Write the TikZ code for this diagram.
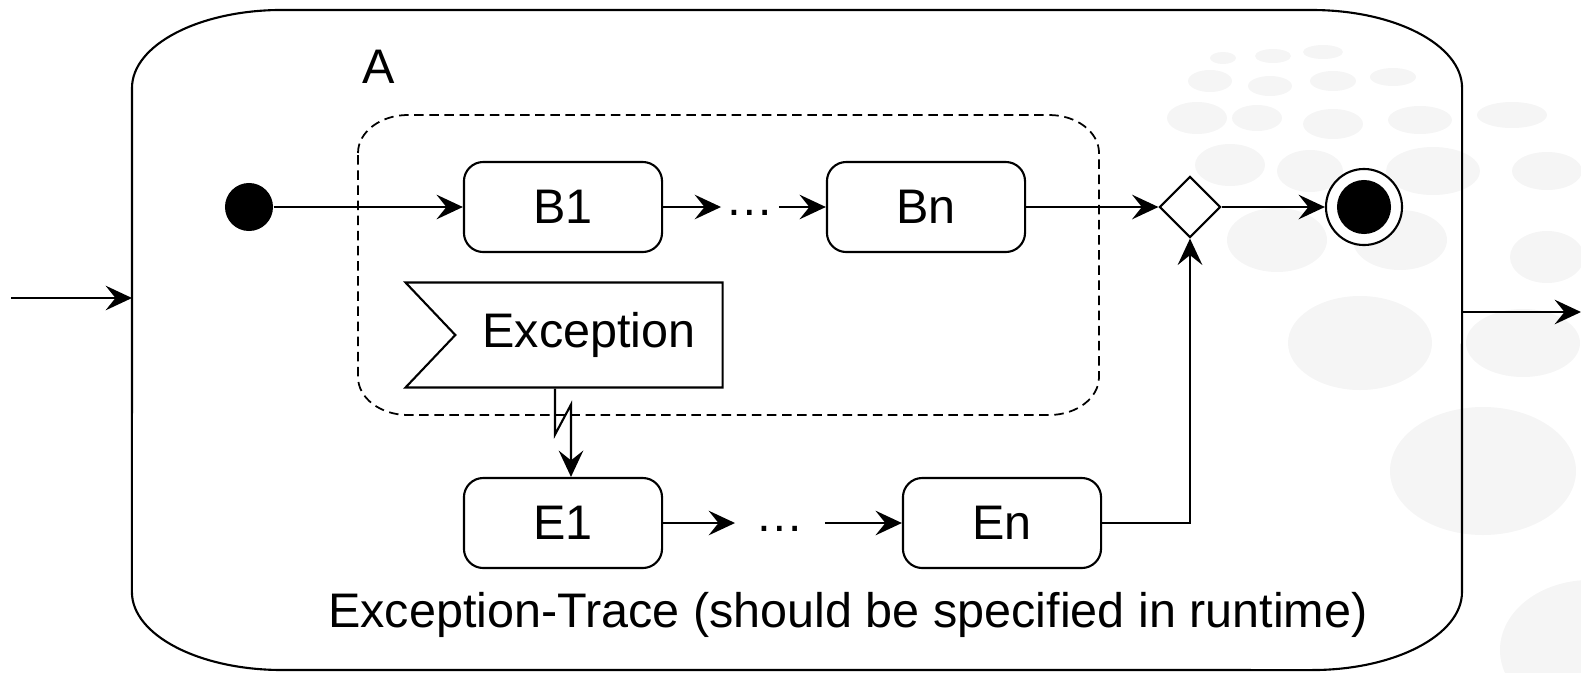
\documentclass[tikz,border=0pt]{standalone}
\usepackage{fontspec}
\setmainfont{Liberation Sans}
\usetikzlibrary{arrows.meta,shapes.geometric,shapes.symbols}

\tikzset{
  act/.style={draw, rectangle, rounded corners=5.5pt, fill=white, line width=0.6pt,
    minimum width=1.98cm, minimum height=0.9cm, inner sep=0pt},
  arr/.style={-{Stealth[length=7.5pt,width=7pt,inset=2.8pt]}, line width=0.6pt},
  startdot/.style={circle, fill=black, minimum size=0.48cm, inner sep=0pt},
  enddot/.style={circle, draw, fill=white, line width=0.6pt, minimum size=0.76cm, inner sep=0pt},
  decision/.style={diamond, draw, fill=white, line width=0.6pt, inner sep=0pt,
    minimum width=0.61cm, minimum height=0.61cm},
  flag/.style={signal, signal to=nowhere, signal from=west, signal pointer angle=93,
    draw, fill=white, line width=0.6pt, minimum width=3.17cm, minimum height=1.05cm, inner sep=0pt},
  dots/.style={text height=0.7em, text depth=0.2em, inner ysep=0pt},
  blob/.style={fill=black!4},
  region/.style={dashed, dash pattern=on 2.7pt off 1.6pt, line width=0.5pt},
}

\begin{document}
\begin{tikzpicture}[x=0.01cm, y=-0.01cm, font=\fontsize{13.8}{16}\selectfont]
  \useasboundingbox (0,0) rectangle (1581,672);

  % faint spots in the background
  \foreach \x/\y/\rx/\ry in {1223/58/13/6, 1273/56/18/7, 1323/52/20/7,
      1210/81/22/11, 1270/86/22/10, 1333/81/23/10, 1393/77/23/9,
      1197/118/30/16, 1257/118/25/13, 1333/124/30/15, 1420/120/32/14, 1512/115/35/13,
      1230/165/35/21, 1310/171/33/21, 1433/171/47/24, 1547/171/35/19,
      1277/240/50/32, 1400/240/47/30, 1547/257/37/26,
      1360/343/72/47, 1523/343/57/34, 1483/471/93/64, 1590/650/90/70}
    \fill[blob] (\x,\y) ellipse[x radius=\rx, y radius=\ry];

  % composite state A
  \draw[line width=0.6pt] (132,88) arc[start angle=180, end angle=90, x radius=1.5cm, y radius=0.78cm]
    -- (1312,10) arc[start angle=90, end angle=0, x radius=1.5cm, y radius=0.78cm]
    -- (1462,592) arc[start angle=0, end angle=-90, x radius=1.5cm, y radius=0.78cm]
    -- (282,670) arc[start angle=270, end angle=180, x radius=1.5cm, y radius=0.78cm]
    -- cycle;
  \node (lblA) at (379,67) {A};

  % interruptible region
  \draw[region] (358,153) arc[start angle=180, end angle=90, x radius=0.5cm, y radius=0.38cm]
    -- (1049,115) arc[start angle=90, end angle=0, x radius=0.5cm, y radius=0.38cm]
    -- (1099,377) arc[start angle=0, end angle=-90, x radius=0.5cm, y radius=0.38cm]
    -- (408,415) arc[start angle=270, end angle=180, x radius=0.5cm, y radius=0.38cm]
    -- cycle;

  \coordinate (src) at (11,298);
  \coordinate (entry) at (132,298);
  \coordinate (exit) at (1462,312);
  \coordinate (sink) at (1581,312);

  \node[startdot] (ini) at (249,207) {};
  \node[act] (B1) at (563,207) {B1};
  \node[dots, inner xsep=0.04cm] (dotsB) at (750,207) {…};
  \node[act] (Bn) at (926,207) {Bn};
  \node[decision] (dec) at (1190,207) {};
  \node[enddot] (fin) at (1364,207) {};
  \fill (fin.center) circle[radius=0.27cm];

  \node[flag] (exc) at (589,335) {Exception};

  \node[act] (E1) at (563,523) {E1};
  \node[dots, inner xsep=0.2cm] (dotsE) at (780,523) {…};
  \node[act] (En) at (1002,523) {En};

  \node[anchor=base] (trace) at (848,627) {Exception-Trace (should be specified in runtime)};

  \draw[arr] (src) -- (entry);
  \draw[arr] (exit) -- (sink);
  \draw[arr] (ini) -- (B1);
  \draw[arr] (B1) -- (dotsB);
  \draw[arr] (dotsB) -- (Bn);
  \draw[arr] (Bn) -- (dec);
  \draw[arr] (dec) -- (fin);
  \draw[arr] (E1) -- (dotsE);
  \draw[arr] (dotsE) -- (En);
  \draw[arr] (En.east) -| (dec.south);
  % exception edge (lightning)
  \draw[arr] ([xshift=-0.08cm]E1.north |- exc.south) -- ++(0,46) -- ++(16,-30) -- ([xshift=0.08cm]E1.north);
\end{tikzpicture}
\end{document}
